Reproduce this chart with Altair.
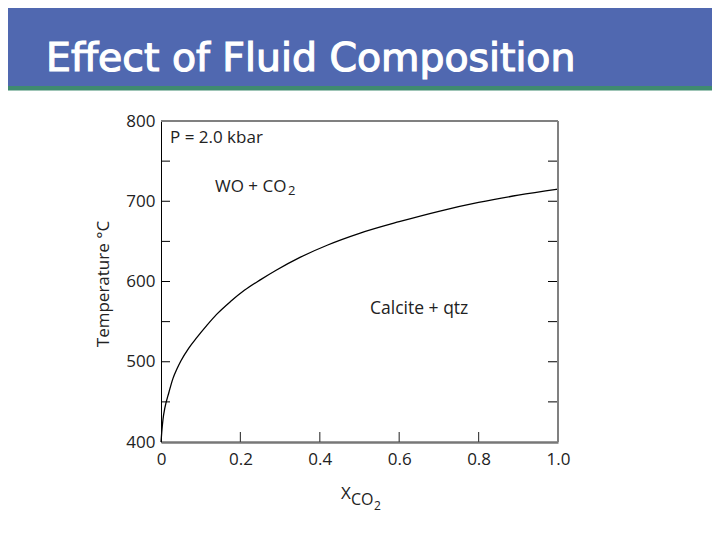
import altair as alt
import pandas as pd

# Curve: equilibrium Calcite + qtz = WO + CO2 at P = 2.0 kbar
x_co2 = [0, 0.002, 0.005, 0.01, 0.02, 0.03, 0.04, 0.05, 0.07, 0.09, 0.115, 0.14,
         0.175, 0.21, 0.25, 0.29, 0.35, 0.42, 0.5, 0.6, 0.7, 0.8, 0.9, 1.0]
temp_c = [400, 413, 428, 443, 462, 479, 491, 501, 517, 530, 545, 559,
          575, 589, 602, 614, 630, 645.5, 660, 674.5, 687.5, 698.5, 707.5, 715]

y_ticks = [450, 500, 550, 600, 650, 700, 750]
x_ticks = [0.2, 0.4, 0.6, 0.8]
y_labels = [400, 500, 600, 700, 800]
x_labels = [0, 0.2, 0.4, 0.6, 0.8, 1.0]

W, H = 397, 321
LBL_FONT = "Open Sans"
TXT = "#222222"

curve = pd.DataFrame({"x": x_co2, "t": temp_c})
yt = pd.DataFrame({"t": y_ticks})
xt = pd.DataFrame({"x": x_ticks})

xscale = alt.Scale(domain=[0, 1], nice=False, zero=False)
yscale = alt.Scale(domain=[400, 800], nice=False, zero=False)

x_axis = alt.Axis(values=x_labels, ticks=False, grid=False, title=None,
                  domainColor="#777777", domainWidth=2.5, labelFlush=False,
                  labelFont=LBL_FONT, labelFontSize=17, labelColor=TXT,
                  labelPadding=9,
                  labelExpr="datum.value == 0 ? '0' : format(datum.value, '.1f')")
y_axis = alt.Axis(values=y_labels, ticks=False, grid=False, title=None,
                  domainColor="black", domainWidth=1, labelFlush=False,
                  labelFont=LBL_FONT, labelFontSize=17, labelColor=TXT,
                  labelPadding=6)

line = alt.Chart(curve).mark_line(color="black", strokeWidth=1.3,
                                  interpolate="monotone").encode(
    x=alt.X("x:Q", scale=xscale, axis=x_axis),
    y=alt.Y("t:Q", scale=yscale, axis=y_axis),
)

left_ticks = alt.Chart(yt).mark_rule(color="black", strokeWidth=1).encode(
    y=alt.Y("t:Q", scale=yscale, axis=y_axis), x=alt.value(0), x2=alt.value(9))
right_ticks = alt.Chart(yt).mark_rule(color="black", strokeWidth=1).encode(
    y=alt.Y("t:Q", scale=yscale, axis=y_axis), x=alt.value(W - 10), x2=alt.value(W))
bottom_ticks = alt.Chart(xt).mark_rule(color="#444444", strokeWidth=1.2).encode(
    x=alt.X("x:Q", scale=xscale, axis=x_axis), y=alt.value(H - 10), y2=alt.value(H))

top_frame = alt.Chart().mark_rule(color="#808080", strokeWidth=2).encode(
    x=alt.value(0), x2=alt.value(W), y=alt.value(0))
right_frame = alt.Chart().mark_rule(color="#808080", strokeWidth=2).encode(
    x=alt.value(W), y=alt.value(0), y2=alt.value(H))

# Slide header
header = alt.Chart().mark_rect(color="#5068b0").encode(
    x=alt.value(-153), x2=alt.value(551), y=alt.value(-113), y2=alt.value(-35))
band = alt.Chart().mark_rect(color="#3f8b6f").encode(
    x=alt.value(-153), x2=alt.value(551), y=alt.value(-35), y2=alt.value(-30.5))
title = alt.Chart().mark_text(text="Effect of Fluid Composition", color="white",
                              font="DejaVu Sans", fontSize=39.4, fontWeight="normal",
                              stroke="white", strokeWidth=1.2,
                              align="left", baseline="alphabetic").encode(
    x=alt.value(-115), y=alt.value(-50))

def label(text, x, y, size=16, align="left", baseline="middle", angle=0):
    return alt.Chart().mark_text(text=text, color=TXT, font=LBL_FONT, fontSize=size,
                                 align=align, baseline=baseline, angle=angle).encode(
        x=alt.value(x), y=alt.value(y))

annots = [
    label("P = 2.0 kbar", 9, 17, size=17),
    label("WO + CO", 54, 66, size=17),
    label("2", 127, 70, size=13),
    label("Calcite + qtz", 209, 188, size=17.5),
    label("X", 180, 373, size=17),
    label("CO", 190, 379, size=16),
    label("2", 213, 385, size=12),
    label("Temperature °C", -57, 163, size=17, align="center", angle=270),
]

chart = alt.layer(
    header, band, title,
    line, left_ticks, right_ticks, bottom_ticks, top_frame, right_frame,
    *annots,
).properties(
    width=W, height=H,
    padding={"left": 153, "top": 113, "right": 154, "bottom": 90},
    autosize=alt.AutoSizeParams(type="none"),
    background="white",
).configure_view(stroke=None)

chart.save("out.html", embed_options={"renderer": "svg", "actions": False})
